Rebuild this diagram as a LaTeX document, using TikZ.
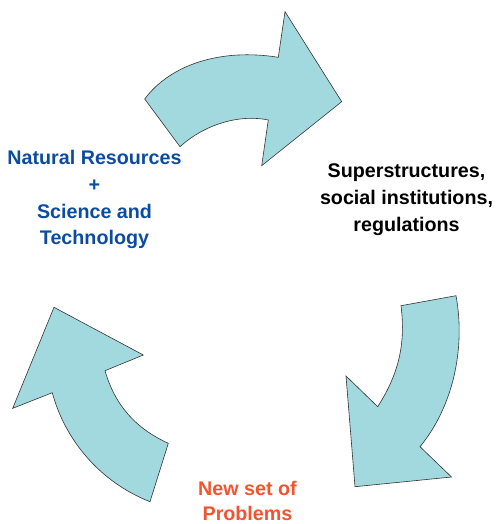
\documentclass[tikz,border=0pt]{standalone}
\usepackage{fontspec}
\setmainfont{Liberation Sans}
\definecolor{cyclefill}{RGB}{161,217,222}
\definecolor{resblue}{RGB}{12,76,160}
\definecolor{probred}{RGB}{242,84,48}
\begin{document}
\begin{tikzpicture}[x=1pt,y=-1pt,inner sep=0pt,outer sep=0pt,
blockarrow/.style={draw=black!80,fill=cyclefill,line width=0.6pt,line join=miter},
cyclelabel/.style={anchor=north,align=center,font=\bfseries\fontsize{19.7}{25}\selectfont}]
\useasboundingbox (0,0) rectangle (496,524);
% arrows of the cycle
\draw[blockarrow] (144.7,99) .. controls (170,65) and (220,48) .. (278.3,57.3) -- (285,11.7)
  -- (341.7,101.7) -- (261.7,165.7) -- (268.3,120) .. controls (240,114) and (205,124) .. (180,146.7) -- cycle;
\draw[blockarrow] (456,295.7) -- (401,305.7) .. controls (406,345) and (398,375) .. (377.7,406.7)
  -- (346,376) -- (355,486.7) -- (451.5,477) -- (420,446.7) .. controls (452,408) and (466,350) .. cycle;
\draw[blockarrow] (54,307.3) -- (143.3,355) -- (105,370.7) .. controls (115,405) and (135,428) .. (168.3,443.3)
  -- (150,501.7) .. controls (100,482) and (65,440) .. (52.3,392.7) -- (12.7,408.3) -- cycle;
% labels
\draw (94.5,150) node[cyclelabel,text=resblue] (resources) {Natural Resources\\[2pt] +\\[2pt] Science and\\[1pt] Technology};
\draw (406.5,164) node[cyclelabel,text=black,font=\bfseries\fontsize{19.7}{27}\selectfont] (superstructures) {Superstructures,\\ social institutions,\\ regulations};
\draw (247.5,481.5) node[cyclelabel,text=probred,font=\bfseries\fontsize{19.7}{24.5}\selectfont] (problems) {New set of\\ Problems};
\end{tikzpicture}
\end{document}
